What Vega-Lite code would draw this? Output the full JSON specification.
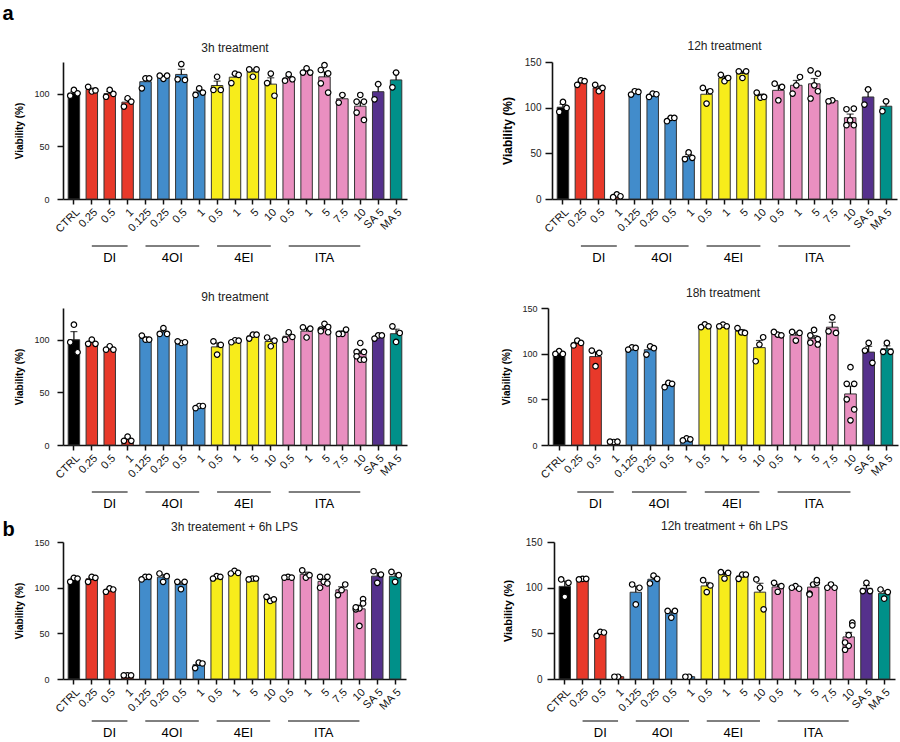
{
"$schema": "https://vega.github.io/schema/vega-lite/v6.json",
"padding": {"left": 2, "top": 4, "right": 2, "bottom": 0},
"title": {"text": "a", "anchor": "start", "fontSize": 20, "fontWeight": "bold", "offset": 16, "color": "black"},
"config": {
  "font": "Liberation Sans",
  "view": {"stroke": null},
  "axis": {"grid": false, "domainColor": "#111111", "tickColor": "#111111", "labelColor": "#222222", "titleColor": "#000000", "domainWidth": 1.6, "tickWidth": 1.5},
  "title": {"fontSize": 12, "fontWeight": "normal", "offset": 4, "color": "#222222"}
},
"datasets": {
  "groups": [
    {"g": "DI", "a": "DI 0.25", "b": "DI 1", "c": "DI 0.5", "even": false},
    {"g": "4OI", "a": "4OI 0.125", "b": "4OI 1", "c": "4OI 0.25", "even": true},
    {"g": "4EI", "a": "4EI 0.5", "b": "4EI 10", "c": "4EI 1", "even": true},
    {"g": "ITA", "a": "ITA 0.5", "b": "ITA 10", "c": "ITA 5", "even": false}
  ],
  "bars": [
    {"p": "3h", "k": "CTRL", "g": "CTRL", "m": 100.5, "hi": 102, "pts": [103.5, 98, 100.3]},
    {"p": "3h", "k": "DI 0.25", "g": "DI", "m": 103.8, "hi": 105.2, "pts": [102, 106.5, 103]},
    {"p": "3h", "k": "DI 0.5", "g": "DI", "m": 100, "hi": 102, "pts": [103.5, 97, 99.7]},
    {"p": "3h", "k": "DI 1", "g": "DI", "m": 91.9, "hi": 94.2, "pts": [95.6, 87.7, 92.4]},
    {"p": "3h", "k": "4OI 0.125", "g": "4OI", "m": 111.3, "hi": 114.5, "pts": [114.5, 105, 114.5]},
    {"p": "3h", "k": "4OI 0.25", "g": "4OI", "m": 116, "hi": 117, "pts": [114, 117, 117]},
    {"p": "3h", "k": "4OI 0.5", "g": "4OI", "m": 118.2, "hi": 123.1, "pts": [128, 113.6, 113]},
    {"p": "3h", "k": "4OI 1", "g": "4OI", "m": 101.6, "hi": 103.4, "pts": [105, 98.7, 101]},
    {"p": "3h", "k": "4EI 0.5", "g": "4EI", "m": 107.7, "hi": 111.9, "pts": [116, 103.5, 103.5]},
    {"p": "3h", "k": "4EI 1", "g": "4EI", "m": 115.6, "hi": 118.4, "pts": [119, 110, 117.7]},
    {"p": "3h", "k": "4EI 5", "g": "4EI", "m": 120.7, "hi": 123, "pts": [116, 123, 123]},
    {"p": "3h", "k": "4EI 10", "g": "4EI", "m": 109, "hi": 115, "pts": [119, 110, 98]},
    {"p": "3h", "k": "ITA 0.5", "g": "ITA", "m": 114.7, "hi": 116.5, "pts": [118.3, 112.3, 113.6]},
    {"p": "3h", "k": "ITA 1", "g": "ITA", "m": 121.3, "hi": 122.6, "pts": [124, 120, 120]},
    {"p": "3h", "k": "ITA 5", "g": "ITA", "m": 115.9, "hi": 120.6, "pts": [127, 122.4, 119.2, 109.8, 101]},
    {"p": "3h", "k": "ITA 7.5", "g": "ITA", "m": 95.1, "hi": 98.7, "pts": [98.7, 91.5]},
    {"p": "3h", "k": "ITA 10", "g": "ITA", "m": 88.1, "hi": 92.3, "pts": [98.7, 92.4, 92.4, 82, 75]},
    {"p": "3h", "k": "SA 5", "g": "SA", "m": 101.8, "hi": 109, "pts": [109, 94.6]},
    {"p": "3h", "k": "MA 5", "g": "MA", "m": 113, "hi": 120, "pts": [120, 106]},

    {"p": "12h", "k": "CTRL", "g": "CTRL", "m": 100.5, "hi": 103.7, "pts": [106.3, 95.4, 99.7]},
    {"p": "12h", "k": "DI 0.25", "g": "DI", "m": 127, "hi": 129, "pts": [130, 125, 129]},
    {"p": "12h", "k": "DI 0.5", "g": "DI", "m": 121.5, "hi": 123.5, "pts": [118, 125, 121.6]},
    {"p": "12h", "k": "DI 1", "g": "DI", "m": 3.3, "hi": 4.2, "pts": [5, 2, 3]},
    {"p": "12h", "k": "4OI 0.125", "g": "4OI", "m": 116.5, "hi": 117.6, "pts": [118, 114.3, 117.2]},
    {"p": "12h", "k": "4OI 0.25", "g": "4OI", "m": 114, "hi": 115.1, "pts": [115.4, 111.8, 114.7]},
    {"p": "12h", "k": "4OI 0.5", "g": "4OI", "m": 87.6, "hi": 88.8, "pts": [88.8, 85.2, 88.8]},
    {"p": "12h", "k": "4OI 1", "g": "4OI", "m": 46.6, "hi": 48.8, "pts": [51, 43.7, 45.1]},
    {"p": "12h", "k": "4EI 0.5", "g": "4EI", "m": 114.7, "hi": 119.9, "pts": [104.5, 121.6, 118]},
    {"p": "12h", "k": "4EI 1", "g": "4EI", "m": 132.5, "hi": 134.5, "pts": [129, 136, 132.5]},
    {"p": "12h", "k": "4EI 5", "g": "4EI", "m": 137.4, "hi": 139.8, "pts": [132.5, 139.8, 139.8]},
    {"p": "12h", "k": "4EI 10", "g": "4EI", "m": 113.1, "hi": 114.8, "pts": [111, 116.5, 111.8]},
    {"p": "12h", "k": "ITA 0.5", "g": "ITA", "m": 119, "hi": 124.6, "pts": [108.1, 126.3, 122.7]},
    {"p": "12h", "k": "ITA 1", "g": "ITA", "m": 124.5, "hi": 129.8, "pts": [124.5, 115.4, 133.6]},
    {"p": "12h", "k": "ITA 5", "g": "ITA", "m": 126.1, "hi": 131.9, "pts": [124.5, 140.9, 137.2, 110, 118]},
    {"p": "12h", "k": "ITA 7.5", "g": "ITA", "m": 107.6, "hi": 108.1, "pts": [108.1, 107]},
    {"p": "12h", "k": "ITA 10", "g": "ITA", "m": 89, "hi": 93, "pts": [86.3, 98.3, 99, 80.8, 80.8]},
    {"p": "12h", "k": "SA 5", "g": "SA", "m": 111.7, "hi": 120, "pts": [120, 103.4]},
    {"p": "12h", "k": "MA 5", "g": "MA", "m": 101.6, "hi": 107, "pts": [107, 96.1]},

    {"p": "9h", "k": "CTRL", "g": "CTRL", "m": 99.9, "hi": 107.6, "pts": [114.2, 97.5, 88]},
    {"p": "9h", "k": "DI 0.25", "g": "DI", "m": 97.3, "hi": 98.6, "pts": [100, 96, 96]},
    {"p": "9h", "k": "DI 0.5", "g": "DI", "m": 91, "hi": 92.5, "pts": [93.7, 90.5, 90.5]},
    {"p": "9h", "k": "DI 1", "g": "DI", "m": 5.3, "hi": 6.6, "pts": [8, 4, 4]},
    {"p": "9h", "k": "4OI 0.125", "g": "4OI", "m": 101.3, "hi": 102.5, "pts": [100, 103.8, 100]},
    {"p": "9h", "k": "4OI 0.25", "g": "4OI", "m": 107.3, "hi": 109.2, "pts": [111, 105.4, 105.4]},
    {"p": "9h", "k": "4OI 0.5", "g": "4OI", "m": 97.6, "hi": 98, "pts": [96.8, 98.4, 97.5]},
    {"p": "9h", "k": "4OI 1", "g": "4OI", "m": 36.3, "hi": 37, "pts": [37, 35, 37]},
    {"p": "9h", "k": "4EI 0.5", "g": "4EI", "m": 93.1, "hi": 96.9, "pts": [85.8, 98.4, 95]},
    {"p": "9h", "k": "4EI 1", "g": "4EI", "m": 98.6, "hi": 99.2, "pts": [99.4, 97.5, 99]},
    {"p": "9h", "k": "4EI 5", "g": "4EI", "m": 103.5, "hi": 104.7, "pts": [104.7, 101, 104.7]},
    {"p": "9h", "k": "4EI 10", "g": "4EI", "m": 98.2, "hi": 100.6, "pts": [93.7, 102, 99]},
    {"p": "9h", "k": "ITA 0.5", "g": "ITA", "m": 103.2, "hi": 105.2, "pts": [107, 100, 102.5]},
    {"p": "9h", "k": "ITA 1", "g": "ITA", "m": 108, "hi": 111, "pts": [102, 111.7, 110.4]},
    {"p": "9h", "k": "ITA 5", "g": "ITA", "m": 110.3, "hi": 111.7, "pts": [115, 109.5, 112, 108, 107]},
    {"p": "9h", "k": "ITA 7.5", "g": "ITA", "m": 106.8, "hi": 108.2, "pts": [105.4, 105.4, 109.5]},
    {"p": "9h", "k": "ITA 10", "g": "ITA", "m": 86.6, "hi": 89, "pts": [96.8, 88.3, 88.3, 84.2, 81, 81]},
    {"p": "9h", "k": "SA 5", "g": "SA", "m": 103, "hi": 104, "pts": [104, 101, 104]},
    {"p": "9h", "k": "MA 5", "g": "MA", "m": 105.6, "hi": 109.9, "pts": [97.8, 112.6, 106.3]},

    {"p": "18h", "k": "CTRL", "g": "CTRL", "m": 100.7, "hi": 101.7, "pts": [102.7, 99.7, 99.7]},
    {"p": "18h", "k": "DI 0.25", "g": "DI", "m": 111.7, "hi": 113.2, "pts": [114.3, 109, 111.8]},
    {"p": "18h", "k": "DI 0.5", "g": "DI", "m": 96.8, "hi": 102.1, "pts": [86.3, 103.4, 100.8]},
    {"p": "18h", "k": "DI 1", "g": "DI", "m": 3.5, "hi": 3.6, "pts": [3.3, 3.6, 3.6]},
    {"p": "18h", "k": "4OI 0.125", "g": "4OI", "m": 105.9, "hi": 106.6, "pts": [107, 104.5, 106.3]},
    {"p": "18h", "k": "4OI 0.25", "g": "4OI", "m": 104.3, "hi": 107, "pts": [108, 99, 106]},
    {"p": "18h", "k": "4OI 0.5", "g": "4OI", "m": 66.1, "hi": 67.5, "pts": [68, 63.3, 67]},
    {"p": "18h", "k": "4OI 1", "g": "4OI", "m": 6.2, "hi": 6.9, "pts": [7.3, 5, 6.2]},
    {"p": "18h", "k": "4EI 0.5", "g": "4EI", "m": 130.3, "hi": 131.2, "pts": [132, 129, 130]},
    {"p": "18h", "k": "4EI 1", "g": "4EI", "m": 130.6, "hi": 131.2, "pts": [131.8, 130, 130]},
    {"p": "18h", "k": "4EI 5", "g": "4EI", "m": 124.7, "hi": 126.4, "pts": [123.4, 128, 122.7]},
    {"p": "18h", "k": "4EI 10", "g": "4EI", "m": 106.6, "hi": 114.4, "pts": [110, 91.7, 118]},
    {"p": "18h", "k": "ITA 0.5", "g": "ITA", "m": 121.6, "hi": 122.7, "pts": [120.9, 123.8, 120.1]},
    {"p": "18h", "k": "ITA 1", "g": "ITA", "m": 120.3, "hi": 123.3, "pts": [114.3, 123.8, 122.7]},
    {"p": "18h", "k": "ITA 5", "g": "ITA", "m": 116.8, "hi": 119.7, "pts": [126, 120, 116, 112, 110]},
    {"p": "18h", "k": "ITA 7.5", "g": "ITA", "m": 129, "hi": 134.4, "pts": [139.8, 124.5, 122.7]},
    {"p": "18h", "k": "ITA 10", "g": "ITA", "m": 55.9, "hi": 64.4, "pts": [85.2, 67, 67, 50, 39, 27]},
    {"p": "18h", "k": "SA 5", "g": "SA", "m": 101.7, "hi": 108, "pts": [111.8, 103.4, 90]},
    {"p": "18h", "k": "MA 5", "g": "MA", "m": 105.3, "hi": 108.6, "pts": [111.8, 102, 102]},

    {"p": "3hL", "k": "CTRL", "g": "CTRL", "m": 109.1, "hi": 110.4, "pts": [110.8, 106.4, 110]},
    {"p": "3hL", "k": "DI 0.25", "g": "DI", "m": 109.7, "hi": 111.4, "pts": [111.9, 106.4, 110.8]},
    {"p": "3hL", "k": "DI 0.5", "g": "DI", "m": 97.6, "hi": 98.7, "pts": [99.2, 95.5, 98]},
    {"p": "3hL", "k": "DI 1", "g": "DI", "m": 4, "hi": 4, "pts": [4, 4, 4]},
    {"p": "3hL", "k": "4OI 0.125", "g": "4OI", "m": 110.9, "hi": 111.9, "pts": [111.9, 109, 111.9]},
    {"p": "3hL", "k": "4OI 0.25", "g": "4OI", "m": 111.5, "hi": 114.2, "pts": [106.4, 115.5, 112.6]},
    {"p": "3hL", "k": "4OI 0.5", "g": "4OI", "m": 103.7, "hi": 106.4, "pts": [98.4, 106.4, 106.4]},
    {"p": "3hL", "k": "4OI 1", "g": "4OI", "m": 15.7, "hi": 17.6, "pts": [18, 12, 17]},
    {"p": "3hL", "k": "4EI 0.5", "g": "4EI", "m": 111.5, "hi": 112.3, "pts": [112.6, 110, 111.9]},
    {"p": "3hL", "k": "4EI 1", "g": "4EI", "m": 116.7, "hi": 117.6, "pts": [118.4, 115.5, 116.2]},
    {"p": "3hL", "k": "4EI 5", "g": "4EI", "m": 109.7, "hi": 110, "pts": [110, 109, 110]},
    {"p": "3hL", "k": "4EI 10", "g": "4EI", "m": 87.5, "hi": 88.8, "pts": [85.4, 90, 87.2]},
    {"p": "3hL", "k": "ITA 0.5", "g": "ITA", "m": 111.3, "hi": 111.6, "pts": [111.9, 111, 111]},
    {"p": "3hL", "k": "ITA 1", "g": "ITA", "m": 114.6, "hi": 117, "pts": [111, 119, 113.7]},
    {"p": "3hL", "k": "ITA 5", "g": "ITA", "m": 106.9, "hi": 109.2, "pts": [106.4, 111.9, 111.9, 99.9, 104.6]},
    {"p": "3hL", "k": "ITA 7.5", "g": "ITA", "m": 97.6, "hi": 101, "pts": [97.3, 91.9, 103.5]},
    {"p": "3hL", "k": "ITA 10", "g": "ITA", "m": 76.8, "hi": 80.9, "pts": [58.1, 76.3, 87.5, 78.5, 82.8, 77.4]},
    {"p": "3hL", "k": "SA 5", "g": "SA", "m": 112.6, "hi": 116.4, "pts": [105.3, 118, 114.4]},
    {"p": "3hL", "k": "MA 5", "g": "MA", "m": 112.5, "hi": 115.7, "pts": [106.4, 117.3, 113.7]},

    {"p": "12hL", "k": "CTRL", "g": "CTRL", "m": 101.4, "hi": 107.2, "pts": [90, 109, 105.3]},
    {"p": "12hL", "k": "DI 0.25", "g": "DI", "m": 109.5, "hi": 109.7, "pts": [109.7, 109, 109.7]},
    {"p": "12hL", "k": "DI 0.5", "g": "DI", "m": 49.9, "hi": 51.3, "pts": [51.6, 47.2, 50.9]},
    {"p": "12hL", "k": "DI 1", "g": "DI", "m": 2.5, "hi": 2.5, "pts": [2.5, 2.5]},
    {"p": "12hL", "k": "4OI 0.125", "g": "4OI", "m": 95, "hi": 101.7, "pts": [81.7, 103.5, 99.9]},
    {"p": "12hL", "k": "4OI 0.25", "g": "4OI", "m": 109.2, "hi": 111.7, "pts": [113.3, 104.6, 109.7]},
    {"p": "12hL", "k": "4OI 0.5", "g": "4OI", "m": 72.1, "hi": 74.5, "pts": [67.2, 74.5, 74.5]},
    {"p": "12hL", "k": "4OI 1", "g": "4OI", "m": 2.5, "hi": 2.5, "pts": [2.5, 2.5]},
    {"p": "12hL", "k": "4EI 0.5", "g": "4EI", "m": 101.9, "hi": 105.7, "pts": [95.2, 108.2, 102.4]},
    {"p": "12hL", "k": "4EI 1", "g": "4EI", "m": 114.4, "hi": 116.6, "pts": [110, 117, 116.2]},
    {"p": "12hL", "k": "4EI 5", "g": "4EI", "m": 112.8, "hi": 114.4, "pts": [114.4, 109.7, 114.4]},
    {"p": "12hL", "k": "4EI 10", "g": "4EI", "m": 95.1, "hi": 104.8, "pts": [99.9, 109, 76.3]},
    {"p": "12hL", "k": "ITA 0.5", "g": "ITA", "m": 100.8, "hi": 103.7, "pts": [95.5, 105.3, 101.7]},
    {"p": "12hL", "k": "ITA 1", "g": "ITA", "m": 100.1, "hi": 101, "pts": [101.7, 99.9, 98.8]},
    {"p": "12hL", "k": "ITA 5", "g": "ITA", "m": 100.6, "hi": 103.8, "pts": [103.5, 93.4, 105.3, 92.6, 108.2]},
    {"p": "12hL", "k": "ITA 7.5", "g": "ITA", "m": 101.1, "hi": 102.3, "pts": [103.5, 99.9, 99.9]},
    {"p": "12hL", "k": "ITA 10", "g": "ITA", "m": 46.1, "hi": 51, "pts": [48, 40, 61.7, 32, 58.8, 36.3]},
    {"p": "12hL", "k": "SA 5", "g": "SA", "m": 99.3, "hi": 102.3, "pts": [105.3, 96.3, 96.3]},
    {"p": "12hL", "k": "MA 5", "g": "MA", "m": 93.7, "hi": 96.7, "pts": [88, 98, 95.2]}
  ]
},
"spacing": 22,
"vconcat": [
{
 "spacing": 94,
 "hconcat": [
  {
   "spacing": 10,
   "vconcat": [
    {
     "title": "3h treatment",
     "width": 344, "height": 137,
     "data": {"name": "bars"},
     "transform": [{"filter": "datum.p == '3h'"}],
     "encoding": {"x": {"field": "k", "type": "nominal", "sort": null, "scale": {"type": "band", "domain": ["CTRL","DI 0.25","DI 0.5","DI 1","4OI 0.125","4OI 0.25","4OI 0.5","4OI 1","4EI 0.5","4EI 1","4EI 5","4EI 10","ITA 0.5","ITA 1","ITA 5","ITA 7.5","ITA 10","SA 5","MA 5"], "paddingInner": 0.36, "paddingOuter": 0.29}, "axis": {"title": null, "labelAngle": -45, "labelFontSize": 11, "tickSize": 5, "labelPadding": 2, "labelColor": "#111111", "labelExpr": "indexof(['DI','4OI','4EI','ITA'], split(datum.label,' ')[0]) >= 0 ? split(datum.label,' ')[1] : datum.label"}}},
     "layer": [
      {"mark": {"type": "bar", "stroke": "#333333", "strokeWidth": 1},
       "encoding": {"y": {"field": "m", "type": "quantitative", "title": "Viability (%)", "scale": {"domain": [0, 130], "nice": false}, "axis": {"values": [0, 50, 100], "labelFontSize": 9, "titleFontSize": 10, "tickSize": 6, "labelPadding": 8, "titlePadding": 9}},
                    "color": {"field": "g", "type": "nominal", "legend": null, "scale": {"domain": ["CTRL","DI","4OI","4EI","ITA","SA","MA"], "range": ["#000000","#E8392A","#428CCB","#F7EC1B","#E98FC0","#55318C","#009089"]}}}},
      {"mark": {"type": "rule", "color": "black", "strokeWidth": 1.2}, "encoding": {"y": {"field": "m", "type": "quantitative", "title": "Viability (%)"}, "y2": {"field": "hi"}}},
      {"mark": {"type": "tick", "color": "black", "thickness": 1.2, "size": 7}, "encoding": {"y": {"field": "hi", "type": "quantitative", "title": "Viability (%)"}}},
      {"transform": [{"flatten": ["pts"], "as": ["v"]}, {"window": [{"op": "row_number", "as": "i"}], "groupby": ["k"]}],
       "layer": [
        {"transform": [{"filter": "datum.i == 1 || datum.i == 6"}], "mark": {"type": "circle", "fill": "white", "stroke": "black", "strokeWidth": 1.2, "size": 30, "opacity": 1}, "encoding": {"y": {"field": "v", "type": "quantitative", "title": "Viability (%)"}}},
        {"transform": [{"filter": "datum.i == 2 || datum.i == 4"}], "mark": {"type": "circle", "fill": "white", "stroke": "black", "strokeWidth": 1.2, "size": 30, "opacity": 1}, "encoding": {"x": {"field": "k", "type": "nominal", "sort": null, "bandPosition": 0.18, "title": null}, "y": {"field": "v", "type": "quantitative", "title": "Viability (%)"}}},
        {"transform": [{"filter": "datum.i == 3 || datum.i == 5"}], "mark": {"type": "circle", "fill": "white", "stroke": "black", "strokeWidth": 1.2, "size": 30, "opacity": 1}, "encoding": {"x": {"field": "k", "type": "nominal", "sort": null, "bandPosition": 0.82, "title": null}, "y": {"field": "v", "type": "quantitative", "title": "Viability (%)"}}}
       ]}
     ]
    },
    {
     "width": 344, "height": 12,
     "data": {"name": "groups"},
     "layer": [
      {"mark": {"type": "rule", "color": "black", "strokeWidth": 1}, "encoding": {"x": {"field": "a", "type": "nominal", "sort": null, "scale": {"type": "band", "domain": ["CTRL","DI 0.25","DI 0.5","DI 1","4OI 0.125","4OI 0.25","4OI 0.5","4OI 1","4EI 0.5","4EI 1","4EI 5","4EI 10","ITA 0.5","ITA 1","ITA 5","ITA 7.5","ITA 10","SA 5","MA 5"], "paddingInner": 0.36, "paddingOuter": 0.29}, "axis": null}, "x2": {"field": "b"}, "y": {"datum": 1, "type": "quantitative", "scale": {"domain": [0, 1]}, "axis": null}}},
      {"transform": [{"filter": "!datum.even"}], "mark": {"type": "text", "fontSize": 13, "baseline": "middle", "color": "black"}, "encoding": {"x": {"field": "c", "type": "nominal", "sort": null, "axis": null}, "y": {"datum": 0, "type": "quantitative", "axis": null}, "text": {"field": "g"}}},
      {"transform": [{"filter": "datum.even"}], "mark": {"type": "text", "fontSize": 13, "baseline": "middle", "color": "black"}, "encoding": {"x": {"field": "c", "type": "nominal", "sort": null, "bandPosition": 1.28, "axis": null}, "y": {"datum": 0, "type": "quantitative", "axis": null}, "text": {"field": "g"}}}
     ]
    }
   ]
  },
  {
   "spacing": 10,
   "vconcat": [
    {
     "title": "12h treatment",
     "width": 345, "height": 137,
     "data": {"name": "bars"},
     "transform": [{"filter": "datum.p == '12h'"}],
     "encoding": {"x": {"field": "k", "type": "nominal", "sort": null, "scale": {"type": "band", "domain": ["CTRL","DI 0.25","DI 0.5","DI 1","4OI 0.125","4OI 0.25","4OI 0.5","4OI 1","4EI 0.5","4EI 1","4EI 5","4EI 10","ITA 0.5","ITA 1","ITA 5","ITA 7.5","ITA 10","SA 5","MA 5"], "paddingInner": 0.36, "paddingOuter": 0.29}, "axis": {"title": null, "labelAngle": -45, "labelFontSize": 11, "tickSize": 5, "labelPadding": 2, "labelColor": "#111111", "labelExpr": "indexof(['DI','4OI','4EI','ITA'], split(datum.label,' ')[0]) >= 0 ? split(datum.label,' ')[1] : datum.label"}}},
     "layer": [
      {"mark": {"type": "bar", "stroke": "#333333", "strokeWidth": 1},
       "encoding": {"y": {"field": "m", "type": "quantitative", "title": "Viability (%)", "scale": {"domain": [0, 150], "nice": false}, "axis": {"values": [0, 50, 100, 150], "labelFontSize": 10, "titleFontSize": 12, "tickSize": 7, "labelPadding": 4, "titlePadding": 10}},
                    "color": {"field": "g", "type": "nominal", "legend": null, "scale": {"domain": ["CTRL","DI","4OI","4EI","ITA","SA","MA"], "range": ["#000000","#E8392A","#428CCB","#F7EC1B","#E98FC0","#55318C","#009089"]}}}},
      {"mark": {"type": "rule", "color": "black", "strokeWidth": 1.2}, "encoding": {"y": {"field": "m", "type": "quantitative", "title": "Viability (%)"}, "y2": {"field": "hi"}}},
      {"mark": {"type": "tick", "color": "black", "thickness": 1.2, "size": 7}, "encoding": {"y": {"field": "hi", "type": "quantitative", "title": "Viability (%)"}}},
      {"transform": [{"flatten": ["pts"], "as": ["v"]}, {"window": [{"op": "row_number", "as": "i"}], "groupby": ["k"]}],
       "layer": [
        {"transform": [{"filter": "datum.i == 1 || datum.i == 6"}], "mark": {"type": "circle", "fill": "white", "stroke": "black", "strokeWidth": 1.2, "size": 30, "opacity": 1}, "encoding": {"y": {"field": "v", "type": "quantitative", "title": "Viability (%)"}}},
        {"transform": [{"filter": "datum.i == 2 || datum.i == 4"}], "mark": {"type": "circle", "fill": "white", "stroke": "black", "strokeWidth": 1.2, "size": 30, "opacity": 1}, "encoding": {"x": {"field": "k", "type": "nominal", "sort": null, "bandPosition": 0.18, "title": null}, "y": {"field": "v", "type": "quantitative", "title": "Viability (%)"}}},
        {"transform": [{"filter": "datum.i == 3 || datum.i == 5"}], "mark": {"type": "circle", "fill": "white", "stroke": "black", "strokeWidth": 1.2, "size": 30, "opacity": 1}, "encoding": {"x": {"field": "k", "type": "nominal", "sort": null, "bandPosition": 0.82, "title": null}, "y": {"field": "v", "type": "quantitative", "title": "Viability (%)"}}}
       ]}
     ]
    },
    {
     "width": 345, "height": 12,
     "data": {"name": "groups"},
     "layer": [
      {"mark": {"type": "rule", "color": "black", "strokeWidth": 1}, "encoding": {"x": {"field": "a", "type": "nominal", "sort": null, "scale": {"type": "band", "domain": ["CTRL","DI 0.25","DI 0.5","DI 1","4OI 0.125","4OI 0.25","4OI 0.5","4OI 1","4EI 0.5","4EI 1","4EI 5","4EI 10","ITA 0.5","ITA 1","ITA 5","ITA 7.5","ITA 10","SA 5","MA 5"], "paddingInner": 0.36, "paddingOuter": 0.29}, "axis": null}, "x2": {"field": "b"}, "y": {"datum": 1, "type": "quantitative", "scale": {"domain": [0, 1]}, "axis": null}}},
      {"transform": [{"filter": "!datum.even"}], "mark": {"type": "text", "fontSize": 13, "baseline": "middle", "color": "black"}, "encoding": {"x": {"field": "c", "type": "nominal", "sort": null, "axis": null}, "y": {"datum": 0, "type": "quantitative", "axis": null}, "text": {"field": "g"}}},
      {"transform": [{"filter": "datum.even"}], "mark": {"type": "text", "fontSize": 13, "baseline": "middle", "color": "black"}, "encoding": {"x": {"field": "c", "type": "nominal", "sort": null, "bandPosition": 1.28, "axis": null}, "y": {"datum": 0, "type": "quantitative", "axis": null}, "text": {"field": "g"}}}
     ]
    }
   ]
  }
 ]
},
{
 "spacing": 9,
 "vconcat": [
{
 "spacing": 94,
 "hconcat": [
  {
   "spacing": 10,
   "vconcat": [
    {
     "title": "9h treatment",
     "width": 344, "height": 137,
     "data": {"name": "bars"},
     "transform": [{"filter": "datum.p == '9h'"}],
     "encoding": {"x": {"field": "k", "type": "nominal", "sort": null, "scale": {"type": "band", "domain": ["CTRL","DI 0.25","DI 0.5","DI 1","4OI 0.125","4OI 0.25","4OI 0.5","4OI 1","4EI 0.5","4EI 1","4EI 5","4EI 10","ITA 0.5","ITA 1","ITA 5","ITA 7.5","ITA 10","SA 5","MA 5"], "paddingInner": 0.36, "paddingOuter": 0.29}, "axis": {"title": null, "labelAngle": -45, "labelFontSize": 11, "tickSize": 5, "labelPadding": 2, "labelColor": "#111111", "labelExpr": "indexof(['DI','4OI','4EI','ITA'], split(datum.label,' ')[0]) >= 0 ? split(datum.label,' ')[1] : datum.label"}}},
     "layer": [
      {"mark": {"type": "bar", "stroke": "#333333", "strokeWidth": 1},
       "encoding": {"y": {"field": "m", "type": "quantitative", "title": "Viability (%)", "scale": {"domain": [0, 130], "nice": false}, "axis": {"values": [0, 50, 100], "labelFontSize": 9, "titleFontSize": 10, "tickSize": 6, "labelPadding": 8, "titlePadding": 9}},
                    "color": {"field": "g", "type": "nominal", "legend": null, "scale": {"domain": ["CTRL","DI","4OI","4EI","ITA","SA","MA"], "range": ["#000000","#E8392A","#428CCB","#F7EC1B","#E98FC0","#55318C","#009089"]}}}},
      {"mark": {"type": "rule", "color": "black", "strokeWidth": 1.2}, "encoding": {"y": {"field": "m", "type": "quantitative", "title": "Viability (%)"}, "y2": {"field": "hi"}}},
      {"mark": {"type": "tick", "color": "black", "thickness": 1.2, "size": 7}, "encoding": {"y": {"field": "hi", "type": "quantitative", "title": "Viability (%)"}}},
      {"transform": [{"flatten": ["pts"], "as": ["v"]}, {"window": [{"op": "row_number", "as": "i"}], "groupby": ["k"]}],
       "layer": [
        {"transform": [{"filter": "datum.i == 1 || datum.i == 6"}], "mark": {"type": "circle", "fill": "white", "stroke": "black", "strokeWidth": 1.2, "size": 30, "opacity": 1}, "encoding": {"y": {"field": "v", "type": "quantitative", "title": "Viability (%)"}}},
        {"transform": [{"filter": "datum.i == 2 || datum.i == 4"}], "mark": {"type": "circle", "fill": "white", "stroke": "black", "strokeWidth": 1.2, "size": 30, "opacity": 1}, "encoding": {"x": {"field": "k", "type": "nominal", "sort": null, "bandPosition": 0.18, "title": null}, "y": {"field": "v", "type": "quantitative", "title": "Viability (%)"}}},
        {"transform": [{"filter": "datum.i == 3 || datum.i == 5"}], "mark": {"type": "circle", "fill": "white", "stroke": "black", "strokeWidth": 1.2, "size": 30, "opacity": 1}, "encoding": {"x": {"field": "k", "type": "nominal", "sort": null, "bandPosition": 0.82, "title": null}, "y": {"field": "v", "type": "quantitative", "title": "Viability (%)"}}}
       ]}
     ]
    },
    {
     "width": 344, "height": 12,
     "data": {"name": "groups"},
     "layer": [
      {"mark": {"type": "rule", "color": "black", "strokeWidth": 1}, "encoding": {"x": {"field": "a", "type": "nominal", "sort": null, "scale": {"type": "band", "domain": ["CTRL","DI 0.25","DI 0.5","DI 1","4OI 0.125","4OI 0.25","4OI 0.5","4OI 1","4EI 0.5","4EI 1","4EI 5","4EI 10","ITA 0.5","ITA 1","ITA 5","ITA 7.5","ITA 10","SA 5","MA 5"], "paddingInner": 0.36, "paddingOuter": 0.29}, "axis": null}, "x2": {"field": "b"}, "y": {"datum": 1, "type": "quantitative", "scale": {"domain": [0, 1]}, "axis": null}}},
      {"transform": [{"filter": "!datum.even"}], "mark": {"type": "text", "fontSize": 13, "baseline": "middle", "color": "black"}, "encoding": {"x": {"field": "c", "type": "nominal", "sort": null, "axis": null}, "y": {"datum": 0, "type": "quantitative", "axis": null}, "text": {"field": "g"}}},
      {"transform": [{"filter": "datum.even"}], "mark": {"type": "text", "fontSize": 13, "baseline": "middle", "color": "black"}, "encoding": {"x": {"field": "c", "type": "nominal", "sort": null, "bandPosition": 1.28, "axis": null}, "y": {"datum": 0, "type": "quantitative", "axis": null}, "text": {"field": "g"}}}
     ]
    }
   ]
  },
  {
   "spacing": 10,
   "vconcat": [
    {
     "title": "18h treatment",
     "width": 350, "height": 137,
     "data": {"name": "bars"},
     "transform": [{"filter": "datum.p == '18h'"}],
     "encoding": {"x": {"field": "k", "type": "nominal", "sort": null, "scale": {"type": "band", "domain": ["CTRL","DI 0.25","DI 0.5","DI 1","4OI 0.125","4OI 0.25","4OI 0.5","4OI 1","4EI 0.5","4EI 1","4EI 5","4EI 10","ITA 0.5","ITA 1","ITA 5","ITA 7.5","ITA 10","SA 5","MA 5"], "paddingInner": 0.36, "paddingOuter": 0.29}, "axis": {"title": null, "labelAngle": -45, "labelFontSize": 11, "tickSize": 5, "labelPadding": 2, "labelColor": "#111111", "labelExpr": "indexof(['DI','4OI','4EI','ITA'], split(datum.label,' ')[0]) >= 0 ? split(datum.label,' ')[1] : datum.label"}}},
     "layer": [
      {"mark": {"type": "bar", "stroke": "#333333", "strokeWidth": 1},
       "encoding": {"y": {"field": "m", "type": "quantitative", "title": "Viability (%)", "scale": {"domain": [0, 150], "nice": false}, "axis": {"values": [0, 50, 100, 150], "labelFontSize": 9, "titleFontSize": 10, "tickSize": 7, "labelPadding": 4, "titlePadding": 10}},
                    "color": {"field": "g", "type": "nominal", "legend": null, "scale": {"domain": ["CTRL","DI","4OI","4EI","ITA","SA","MA"], "range": ["#000000","#E8392A","#428CCB","#F7EC1B","#E98FC0","#55318C","#009089"]}}}},
      {"mark": {"type": "rule", "color": "black", "strokeWidth": 1.2}, "encoding": {"y": {"field": "m", "type": "quantitative", "title": "Viability (%)"}, "y2": {"field": "hi"}}},
      {"mark": {"type": "tick", "color": "black", "thickness": 1.2, "size": 7}, "encoding": {"y": {"field": "hi", "type": "quantitative", "title": "Viability (%)"}}},
      {"transform": [{"flatten": ["pts"], "as": ["v"]}, {"window": [{"op": "row_number", "as": "i"}], "groupby": ["k"]}],
       "layer": [
        {"transform": [{"filter": "datum.i == 1 || datum.i == 6"}], "mark": {"type": "circle", "fill": "white", "stroke": "black", "strokeWidth": 1.2, "size": 30, "opacity": 1}, "encoding": {"y": {"field": "v", "type": "quantitative", "title": "Viability (%)"}}},
        {"transform": [{"filter": "datum.i == 2 || datum.i == 4"}], "mark": {"type": "circle", "fill": "white", "stroke": "black", "strokeWidth": 1.2, "size": 30, "opacity": 1}, "encoding": {"x": {"field": "k", "type": "nominal", "sort": null, "bandPosition": 0.18, "title": null}, "y": {"field": "v", "type": "quantitative", "title": "Viability (%)"}}},
        {"transform": [{"filter": "datum.i == 3 || datum.i == 5"}], "mark": {"type": "circle", "fill": "white", "stroke": "black", "strokeWidth": 1.2, "size": 30, "opacity": 1}, "encoding": {"x": {"field": "k", "type": "nominal", "sort": null, "bandPosition": 0.82, "title": null}, "y": {"field": "v", "type": "quantitative", "title": "Viability (%)"}}}
       ]}
     ]
    },
    {
     "width": 350, "height": 12,
     "data": {"name": "groups"},
     "layer": [
      {"mark": {"type": "rule", "color": "black", "strokeWidth": 1}, "encoding": {"x": {"field": "a", "type": "nominal", "sort": null, "scale": {"type": "band", "domain": ["CTRL","DI 0.25","DI 0.5","DI 1","4OI 0.125","4OI 0.25","4OI 0.5","4OI 1","4EI 0.5","4EI 1","4EI 5","4EI 10","ITA 0.5","ITA 1","ITA 5","ITA 7.5","ITA 10","SA 5","MA 5"], "paddingInner": 0.36, "paddingOuter": 0.29}, "axis": null}, "x2": {"field": "b"}, "y": {"datum": 1, "type": "quantitative", "scale": {"domain": [0, 1]}, "axis": null}}},
      {"transform": [{"filter": "!datum.even"}], "mark": {"type": "text", "fontSize": 13, "baseline": "middle", "color": "black"}, "encoding": {"x": {"field": "c", "type": "nominal", "sort": null, "axis": null}, "y": {"datum": 0, "type": "quantitative", "axis": null}, "text": {"field": "g"}}},
      {"transform": [{"filter": "datum.even"}], "mark": {"type": "text", "fontSize": 13, "baseline": "middle", "color": "black"}, "encoding": {"x": {"field": "c", "type": "nominal", "sort": null, "bandPosition": 1.28, "axis": null}, "y": {"datum": 0, "type": "quantitative", "axis": null}, "text": {"field": "g"}}}
     ]
    }
   ]
  }
 ]
},
{
 "spacing": 96,
 "title": {"text": "b", "orient": "left", "anchor": "end", "angle": 0, "fontSize": 20, "fontWeight": "bold", "color": "black", "offset": -12},
 "hconcat": [
  {
   "spacing": 5,
   "vconcat": [
    {
     "title": "3h treatement + 6h LPS",
     "width": 343, "height": 137,
     "data": {"name": "bars"},
     "transform": [{"filter": "datum.p == '3hL'"}],
     "encoding": {"x": {"field": "k", "type": "nominal", "sort": null, "scale": {"type": "band", "domain": ["CTRL","DI 0.25","DI 0.5","DI 1","4OI 0.125","4OI 0.25","4OI 0.5","4OI 1","4EI 0.5","4EI 1","4EI 5","4EI 10","ITA 0.5","ITA 1","ITA 5","ITA 7.5","ITA 10","SA 5","MA 5"], "paddingInner": 0.36, "paddingOuter": 0.29}, "axis": {"title": null, "labelAngle": -45, "labelFontSize": 11, "tickSize": 5, "labelPadding": 2, "labelColor": "#111111", "labelExpr": "indexof(['DI','4OI','4EI','ITA'], split(datum.label,' ')[0]) >= 0 ? split(datum.label,' ')[1] : datum.label"}}},
     "layer": [
      {"mark": {"type": "bar", "stroke": "#333333", "strokeWidth": 1},
       "encoding": {"y": {"field": "m", "type": "quantitative", "title": "Viability (%)", "scale": {"domain": [0, 150], "nice": false}, "axis": {"values": [0, 50, 100, 150], "labelFontSize": 9, "titleFontSize": 10, "tickSize": 6, "labelPadding": 8, "titlePadding": 9}},
                    "color": {"field": "g", "type": "nominal", "legend": null, "scale": {"domain": ["CTRL","DI","4OI","4EI","ITA","SA","MA"], "range": ["#000000","#E8392A","#428CCB","#F7EC1B","#E98FC0","#55318C","#009089"]}}}},
      {"mark": {"type": "rule", "color": "black", "strokeWidth": 1.2}, "encoding": {"y": {"field": "m", "type": "quantitative", "title": "Viability (%)"}, "y2": {"field": "hi"}}},
      {"mark": {"type": "tick", "color": "black", "thickness": 1.2, "size": 7}, "encoding": {"y": {"field": "hi", "type": "quantitative", "title": "Viability (%)"}}},
      {"transform": [{"flatten": ["pts"], "as": ["v"]}, {"window": [{"op": "row_number", "as": "i"}], "groupby": ["k"]}],
       "layer": [
        {"transform": [{"filter": "datum.i == 1 || datum.i == 6"}], "mark": {"type": "circle", "fill": "white", "stroke": "black", "strokeWidth": 1.2, "size": 30, "opacity": 1}, "encoding": {"y": {"field": "v", "type": "quantitative", "title": "Viability (%)"}}},
        {"transform": [{"filter": "datum.i == 2 || datum.i == 4"}], "mark": {"type": "circle", "fill": "white", "stroke": "black", "strokeWidth": 1.2, "size": 30, "opacity": 1}, "encoding": {"x": {"field": "k", "type": "nominal", "sort": null, "bandPosition": 0.18, "title": null}, "y": {"field": "v", "type": "quantitative", "title": "Viability (%)"}}},
        {"transform": [{"filter": "datum.i == 3 || datum.i == 5"}], "mark": {"type": "circle", "fill": "white", "stroke": "black", "strokeWidth": 1.2, "size": 30, "opacity": 1}, "encoding": {"x": {"field": "k", "type": "nominal", "sort": null, "bandPosition": 0.82, "title": null}, "y": {"field": "v", "type": "quantitative", "title": "Viability (%)"}}}
       ]}
     ]
    },
    {
     "width": 343, "height": 12,
     "data": {"name": "groups"},
     "layer": [
      {"mark": {"type": "rule", "color": "black", "strokeWidth": 1}, "encoding": {"x": {"field": "a", "type": "nominal", "sort": null, "scale": {"type": "band", "domain": ["CTRL","DI 0.25","DI 0.5","DI 1","4OI 0.125","4OI 0.25","4OI 0.5","4OI 1","4EI 0.5","4EI 1","4EI 5","4EI 10","ITA 0.5","ITA 1","ITA 5","ITA 7.5","ITA 10","SA 5","MA 5"], "paddingInner": 0.36, "paddingOuter": 0.29}, "axis": null}, "x2": {"field": "b"}, "y": {"datum": 1, "type": "quantitative", "scale": {"domain": [0, 1]}, "axis": null}}},
      {"transform": [{"filter": "!datum.even"}], "mark": {"type": "text", "fontSize": 13, "baseline": "middle", "color": "black"}, "encoding": {"x": {"field": "c", "type": "nominal", "sort": null, "axis": null}, "y": {"datum": 0, "type": "quantitative", "axis": null}, "text": {"field": "g"}}},
      {"transform": [{"filter": "datum.even"}], "mark": {"type": "text", "fontSize": 13, "baseline": "middle", "color": "black"}, "encoding": {"x": {"field": "c", "type": "nominal", "sort": null, "bandPosition": 1.28, "axis": null}, "y": {"datum": 0, "type": "quantitative", "axis": null}, "text": {"field": "g"}}}
     ]
    }
   ]
  },
  {
   "spacing": 5,
   "vconcat": [
    {
     "title": "12h treatment + 6h LPS",
     "width": 341, "height": 137,
     "data": {"name": "bars"},
     "transform": [{"filter": "datum.p == '12hL'"}],
     "encoding": {"x": {"field": "k", "type": "nominal", "sort": null, "scale": {"type": "band", "domain": ["CTRL","DI 0.25","DI 0.5","DI 1","4OI 0.125","4OI 0.25","4OI 0.5","4OI 1","4EI 0.5","4EI 1","4EI 5","4EI 10","ITA 0.5","ITA 1","ITA 5","ITA 7.5","ITA 10","SA 5","MA 5"], "paddingInner": 0.36, "paddingOuter": 0.29}, "axis": {"title": null, "labelAngle": -45, "labelFontSize": 11, "tickSize": 5, "labelPadding": 2, "labelColor": "#111111", "labelExpr": "indexof(['DI','4OI','4EI','ITA'], split(datum.label,' ')[0]) >= 0 ? split(datum.label,' ')[1] : datum.label"}}},
     "layer": [
      {"mark": {"type": "bar", "stroke": "#333333", "strokeWidth": 1},
       "encoding": {"y": {"field": "m", "type": "quantitative", "title": "Viability (%)", "scale": {"domain": [0, 150], "nice": false}, "axis": {"values": [0, 50, 100, 150], "labelFontSize": 10, "titleFontSize": 11, "tickSize": 7, "labelPadding": 5, "titlePadding": 12}},
                    "color": {"field": "g", "type": "nominal", "legend": null, "scale": {"domain": ["CTRL","DI","4OI","4EI","ITA","SA","MA"], "range": ["#000000","#E8392A","#428CCB","#F7EC1B","#E98FC0","#55318C","#009089"]}}}},
      {"mark": {"type": "rule", "color": "black", "strokeWidth": 1.2}, "encoding": {"y": {"field": "m", "type": "quantitative", "title": "Viability (%)"}, "y2": {"field": "hi"}}},
      {"mark": {"type": "tick", "color": "black", "thickness": 1.2, "size": 7}, "encoding": {"y": {"field": "hi", "type": "quantitative", "title": "Viability (%)"}}},
      {"transform": [{"flatten": ["pts"], "as": ["v"]}, {"window": [{"op": "row_number", "as": "i"}], "groupby": ["k"]}],
       "layer": [
        {"transform": [{"filter": "datum.i == 1 || datum.i == 6"}], "mark": {"type": "circle", "fill": "white", "stroke": "black", "strokeWidth": 1.2, "size": 30, "opacity": 1}, "encoding": {"y": {"field": "v", "type": "quantitative", "title": "Viability (%)"}}},
        {"transform": [{"filter": "datum.i == 2 || datum.i == 4"}], "mark": {"type": "circle", "fill": "white", "stroke": "black", "strokeWidth": 1.2, "size": 30, "opacity": 1}, "encoding": {"x": {"field": "k", "type": "nominal", "sort": null, "bandPosition": 0.18, "title": null}, "y": {"field": "v", "type": "quantitative", "title": "Viability (%)"}}},
        {"transform": [{"filter": "datum.i == 3 || datum.i == 5"}], "mark": {"type": "circle", "fill": "white", "stroke": "black", "strokeWidth": 1.2, "size": 30, "opacity": 1}, "encoding": {"x": {"field": "k", "type": "nominal", "sort": null, "bandPosition": 0.82, "title": null}, "y": {"field": "v", "type": "quantitative", "title": "Viability (%)"}}}
       ]}
     ]
    },
    {
     "width": 341, "height": 12,
     "data": {"name": "groups"},
     "layer": [
      {"mark": {"type": "rule", "color": "black", "strokeWidth": 1}, "encoding": {"x": {"field": "a", "type": "nominal", "sort": null, "scale": {"type": "band", "domain": ["CTRL","DI 0.25","DI 0.5","DI 1","4OI 0.125","4OI 0.25","4OI 0.5","4OI 1","4EI 0.5","4EI 1","4EI 5","4EI 10","ITA 0.5","ITA 1","ITA 5","ITA 7.5","ITA 10","SA 5","MA 5"], "paddingInner": 0.36, "paddingOuter": 0.29}, "axis": null}, "x2": {"field": "b"}, "y": {"datum": 1, "type": "quantitative", "scale": {"domain": [0, 1]}, "axis": null}}},
      {"transform": [{"filter": "!datum.even"}], "mark": {"type": "text", "fontSize": 13, "baseline": "middle", "color": "black"}, "encoding": {"x": {"field": "c", "type": "nominal", "sort": null, "axis": null}, "y": {"datum": 0, "type": "quantitative", "axis": null}, "text": {"field": "g"}}},
      {"transform": [{"filter": "datum.even"}], "mark": {"type": "text", "fontSize": 13, "baseline": "middle", "color": "black"}, "encoding": {"x": {"field": "c", "type": "nominal", "sort": null, "bandPosition": 1.28, "axis": null}, "y": {"datum": 0, "type": "quantitative", "axis": null}, "text": {"field": "g"}}}
     ]
    }
   ]
  }
 ]
}
 ]
}
]
}
